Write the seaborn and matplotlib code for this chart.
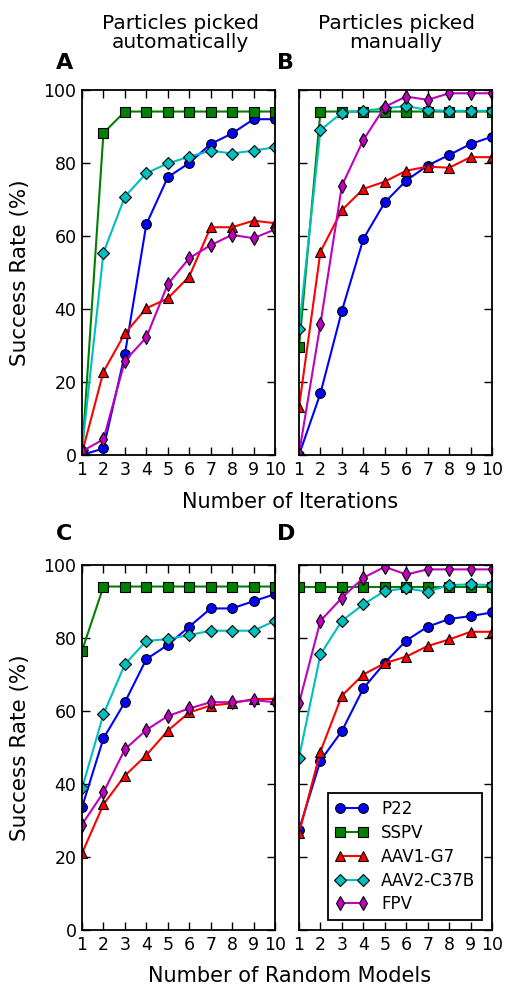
import numpy as np
import pandas as pd
import seaborn as sns
import matplotlib
matplotlib.use('Agg')
import matplotlib.pyplot as plt

# x values for every panel
steps = [1, 2, 3, 4, 5, 6, 7, 8, 9, 10]

series_names = ['P22', 'SSPV', 'AAV1-G7', 'AAV2-C37B', 'FPV']
series_colors = ['#0000ff', '#008000', '#ff0000', '#00bfbf', '#bf00bf']
series_markers = ['o', 's', '^', 'D', 'd']

# panel A - particles picked automatically, iterations
a_p22 = [0, 1.8, 27.6, 63.2, 76.1, 80.0, 85.2, 88.1, 92.0, 92.0]
a_sspv = [0, 88.2, 94.1, 94.1, 94.1, 94.1, 94.1, 94.1, 94.1, 94.1]
a_aav1 = [0.5, 22.8, 33.3, 40.2, 42.9, 48.9, 62.4, 62.4, 64.2, 63.5]
a_aav2 = [1.4, 55.4, 70.8, 77.2, 79.9, 81.7, 83.4, 82.6, 83.4, 84.3]
a_fpv = [1.0, 4.3, 25.8, 32.2, 46.8, 53.9, 57.5, 60.3, 59.4, 61.8]

# panel B - particles picked manually, iterations
b_p22 = [0, 16.9, 39.5, 59.2, 69.2, 75.2, 79.3, 82.2, 85.2, 87.2]
b_sspv = [29.5, 94.1, 94.1, 94.1, 94.1, 94.1, 94.1, 94.1, 94.1, 94.1]
b_aav1 = [13.1, 55.7, 67.1, 72.9, 74.9, 77.9, 79.0, 78.7, 81.6, 81.6]
b_aav2 = [34.5, 89.0, 93.8, 94.3, 95.0, 95.6, 94.5, 94.3, 94.3, 94.3]
b_fpv = [0.3, 35.9, 73.8, 86.3, 95.4, 98.2, 97.3, 99.1, 99.1, 99.1]

# panel C - automatic, random models
c_p22 = [33.6, 52.5, 62.4, 74.2, 78.1, 83.1, 88.1, 88.1, 90.1, 92.0]
c_sspv = [76.5, 94.1, 94.1, 94.1, 94.1, 94.1, 94.1, 94.1, 94.1, 94.1]
c_aav1 = [21.0, 34.4, 42.3, 47.9, 54.6, 59.6, 61.5, 62.1, 63.3, 63.3]
c_aav2 = [38.8, 59.1, 72.8, 79.2, 79.7, 80.8, 82.0, 82.0, 82.0, 84.7]
c_fpv = [28.9, 37.7, 49.5, 54.8, 58.6, 60.7, 62.4, 62.4, 63.0, 62.4]

# panel D - manual, random models
d_p22 = [27.4, 46.4, 54.5, 66.2, 73.2, 79.3, 83.1, 85.2, 86.0, 87.0]
d_sspv = [94.1, 94.1, 94.1, 94.1, 94.1, 94.1, 94.1, 94.1, 94.1, 94.1]
d_aav1 = [26.5, 48.9, 64.2, 70.0, 73.1, 74.9, 77.8, 79.6, 81.7, 81.7]
d_aav2 = [47.2, 75.5, 84.7, 89.2, 92.9, 93.6, 92.7, 94.5, 94.7, 94.5]
d_fpv = [62.1, 84.7, 91.0, 96.5, 99.5, 97.4, 98.8, 98.8, 98.8, 98.8]

panels = {
    'A': [a_p22, a_sspv, a_aav1, a_aav2, a_fpv],
    'B': [b_p22, b_sspv, b_aav1, b_aav2, b_fpv],
    'C': [c_p22, c_sspv, c_aav1, c_aav2, c_fpv],
    'D': [d_p22, d_sspv, d_aav1, d_aav2, d_fpv],
}

sns.set_style('ticks')
plt.rcParams['font.family'] = ['DejaVu Sans']
plt.rcParams['text.color'] = 'black'
plt.rcParams['axes.labelcolor'] = 'black'
plt.rcParams['xtick.color'] = 'black'
plt.rcParams['ytick.color'] = 'black'

fig = plt.figure(figsize=(5.14, 9.93), dpi=100)

W, H = 514.0, 993.0
left_x = [82, 299]
top_y = [90, 565]
ax_w, ax_h = 193, 365

axes = {}
for row, pair in enumerate([('A', 'B'), ('C', 'D')]):
    for col, name in enumerate(pair):
        ax = fig.add_axes([left_x[col] / W, 1 - (top_y[row] + ax_h) / H, ax_w / W, ax_h / H])
        axes[name] = ax

for name, ax in axes.items():
    for vals, lab, colr, mk in zip(panels[name], series_names, series_colors, series_markers):
        sns.lineplot(x=steps, y=vals, ax=ax, color=colr, marker=mk, label=lab,
                     markersize=7 if mk != 'D' else 6.5, markeredgecolor='black',
                     markeredgewidth=0.8, linewidth=1.5, legend=False)
    ax.set_xlim(1, 10)
    ax.set_ylim(0, 100)
    ax.set_xticks(steps)
    ax.set_yticks([0, 20, 40, 60, 80, 100])
    ax.tick_params(direction='in', top=True, right=True, length=6, width=1,
                   labelsize=12.5, pad=4, colors='black')
    for sp in ax.spines.values():
        sp.set_linewidth(1.3)
        sp.set_color('black')
    ax.set_xlabel('')
    if name in ('B', 'D'):
        ax.set_yticklabels([])
        ax.set_ylabel('')
    else:
        ax.set_ylabel('Success Rate (%)', fontsize=15.5)
        ax.yaxis.set_label_coords((30 - 82) / ax_w, 0.5)

# legend in panel D
h, l = axes['D'].get_legend_handles_labels()
leg = axes['D'].legend(h, l, loc='lower right', fontsize=12, numpoints=2,
                       handlelength=2.0, labelspacing=0.35, fancybox=False,
                       framealpha=1, edgecolor='black', borderaxespad=0.6)
leg.get_frame().set_linewidth(1.3)

# panel letters
for name, (px, py) in {'A': (56, 73), 'B': (277, 73), 'C': (56, 544), 'D': (277, 544)}.items():
    fig.text(px / W, 1 - py / H, name, fontsize=16, fontweight='bold', ha='left', va='bottom')

# column titles
fig.text(180 / W, 1 - 33 / H, 'Particles picked\nautomatically', fontsize=14.5,
         ha='center', va='center', linespacing=1.05)
fig.text(396 / W, 1 - 33 / H, 'Particles picked\nmanually', fontsize=14.5,
         ha='center', va='center', linespacing=1.05)

# shared x labels
fig.text(290 / W, 1 - 502 / H, 'Number of Iterations', fontsize=15, ha='center', va='center')
fig.text(290 / W, 1 - 976 / H, 'Number of Random Models', fontsize=15, ha='center', va='center')

plt.savefig('out.png', dpi=100)
